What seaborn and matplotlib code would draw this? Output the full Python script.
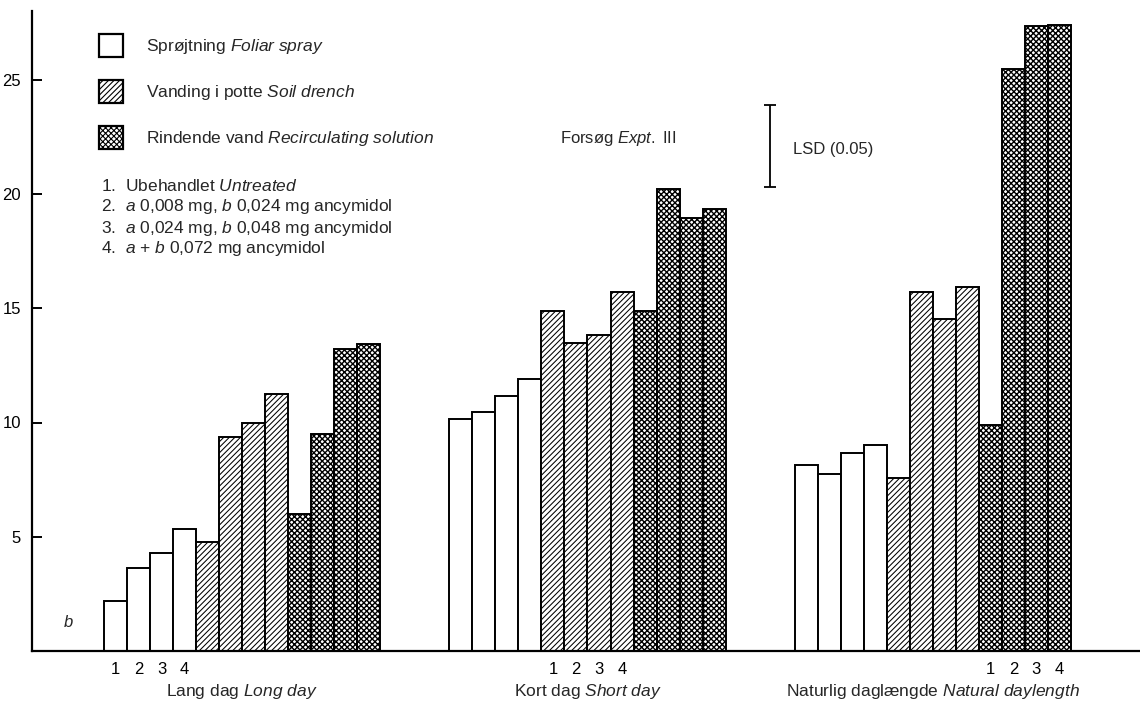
import numpy as np
import pandas as pd
import matplotlib
matplotlib.use("Agg")
import matplotlib.pyplot as plt
from matplotlib.patches import Patch
import seaborn as sns

# Day-length regimes (Danish name, English name)
groups_da = ["Lang dag", "Kort dag", "Naturlig daglængde"]
groups_en = ["Long day", "Short day", "Natural daylength"]

# Application methods (Danish name, English name)
methods_da = ["Sprøjtning", "Vanding i potte", "Rindende vand"]
methods_en = ["Foliar spray", "Soil drench", "Recirculating solution"]

doses = ["1", "2", "3", "4"]

# Values per day-length regime, doses 1-4
foliar_spray = [[2.2, 3.65, 4.3, 5.35],
                [10.15, 10.45, 11.15, 11.9],
                [8.15, 7.75, 8.65, 9.0]]
soil_drench = [[4.75, 9.35, 10.0, 11.25],
               [14.9, 13.5, 13.85, 15.7],
               [7.55, 15.7, 14.55, 15.95]]
recirculating = [[6.0, 9.5, 13.2, 13.45],
                 [14.9, 20.2, 18.95, 19.35],
                 [9.9, 25.45, 27.35, 27.4]]

lsd_value = 3.6

series = [foliar_spray, soil_drench, recirculating]
hatches = ["", "//////", "xxxxxx"]
hatch_widths = [0.7, 0.75, 1.0]

rows = []
for m, values in enumerate(series):
    for g in range(len(groups_da)):
        for d in range(len(doses)):
            rows.append({"method": methods_da[m], "group": g, "dose": d,
                         "pos": g * 15 + m * 4 + d, "value": values[g][d]})
df = pd.DataFrame(rows)

sns.set_style("ticks")
plt.rcParams["font.family"] = ["Liberation Sans", "DejaVu Sans"]
plt.rcParams["mathtext.fontset"] = "custom"
plt.rcParams["mathtext.rm"] = "Liberation Sans"
plt.rcParams["mathtext.it"] = "Liberation Sans:italic"
plt.rcParams["hatch.linewidth"] = 0.8


def it(s):
    """Italic mathtext fragment with spaces kept."""
    return "$\\mathit{" + s.replace(" ", "\\ ") + "}$"


W, H = 1140, 705
fig = plt.figure(figsize=(W / 100, H / 100), dpi=100)
ax = fig.add_axes([32 / W, 54 / H, 1108 / W, 639.8 / H])

for m, name in enumerate(methods_da):
    before = len(ax.patches)
    with plt.rc_context({"hatch.linewidth": hatch_widths[m]}):
        sns.barplot(data=df[df["method"] == name], x="pos", y="value",
                    native_scale=True, width=1.0, dodge=False, errorbar=None,
                    color="white", saturation=1, edgecolor="black",
                    linewidth=1.4, ax=ax)
        for p in ax.patches[before:]:
            p.set_hatch(hatches[m])
            p.set_facecolor("white")
            p.set_edgecolor("black")

ax.set_xlim(-3.63, 44.5)
ax.set_ylim(0, 28)
ax.set_xlabel("")
ax.set_ylabel("")

sns.despine(ax=ax)
for s in ("left", "bottom"):
    ax.spines[s].set_linewidth(1.6)
    ax.spines[s].set_color("black")

ax.set_yticks([5, 10, 15, 20, 25])
ax.tick_params(axis="y", direction="in", length=7, width=1.4, pad=8,
               labelsize=12, colors="black")

# dose numbers under one method in each regime
tick_pos, tick_lab = [], []
for g in range(len(groups_da)):
    for d in range(len(doses)):
        tick_pos.append(g * 15 + g * 4 + d)
        tick_lab.append(doses[d])
ax.set_xticks(tick_pos)
ax.set_xticklabels(tick_lab)
ax.tick_params(axis="x", length=0, pad=8, labelsize=12, colors="black")

# regime names under each group
xt = ax.get_xaxis_transform()
for g in range(len(groups_da)):
    center = g * 15 + 5.5
    ax.text(center, -0.064, f"{groups_da[g]} {it(groups_en[g])}",
            transform=xt, ha="center", va="center", fontsize=12.5)

# legend of application methods
handles = [Patch(facecolor="white", edgecolor="black", hatch=h, linewidth=1.6)
           for h in hatches]
labels = [f"{da} {it(en)}" for da, en in zip(methods_da, methods_en)]
fig.legend(handles, labels, loc="upper left",
           bbox_to_anchor=(99 / W, 1 - 34 / H), bbox_transform=fig.transFigure,
           frameon=False, fontsize=12.5, handlelength=1.38, handleheight=1.68,
           handletextpad=1.3, labelspacing=1.3, borderpad=0, borderaxespad=0)

dose_lines = [
    "1.  Ubehandlet " + it("Untreated"),
    "2.  " + it("a") + " 0,008 mg, " + it("b") + " 0,024 mg ancymidol",
    "3.  " + it("a") + " 0,024 mg, " + it("b") + " 0,048 mg ancymidol",
    "4.  " + it("a") + " + " + it("b") + " 0,072 mg ancymidol",
]
for i, line in enumerate(dose_lines):
    fig.text(101 / W, 1 - (186 + i * 21) / H, line, ha="left", va="center",
             fontsize=12.5)

# experiment label and least significant difference bar
ax.text(21.83, 22.45, "Forsøg " + it("Expt.") + " III", ha="center",
        va="center", fontsize=12)
ax.errorbar([28.43], [22.1], yerr=[lsd_value / 2], fmt="none", ecolor="black",
            elinewidth=1.3, capsize=4.5, capthick=1.3)
ax.text(29.43, 21.93, "LSD (0.05)", ha="left", va="center", fontsize=12)

ax.text(-2.07, 1.27, it("b"), ha="center", va="center", fontsize=12)

fig.savefig("out.png", dpi=100)
